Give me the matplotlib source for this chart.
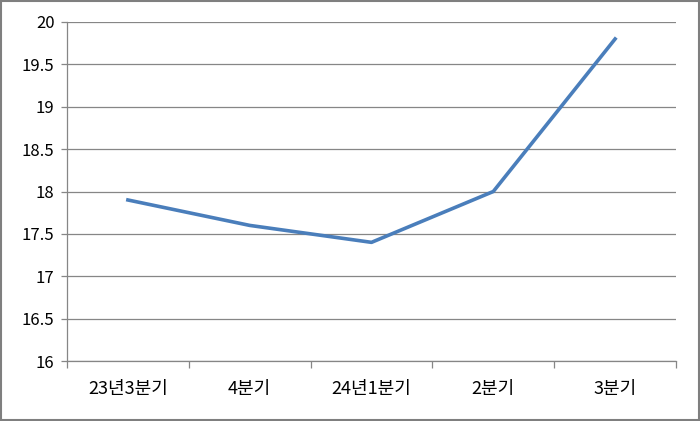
import matplotlib
matplotlib.use("Agg")
import matplotlib.pyplot as plt
import numpy as np

plt.rcParams['font.family'] = ['Noto Sans CJK KR', 'DejaVu Sans']

categories = ["23년3분기", "4분기", "24년1분기", "2분기", "3분기"]
values = [17.9, 17.6, 17.4, 18.0, 19.8]
y_ticks = [16, 16.5, 17, 17.5, 18, 18.5, 19, 19.5, 20]

GRID = "#868686"
LINE = "#4A7EBB"

fig = plt.figure(figsize=(7, 4.21), dpi=100)
ax = fig.add_axes([67 / 700, 60 / 421, 609 / 700, 339 / 421])

x = np.arange(len(categories))
ax.plot(x, values, color=LINE, linewidth=2.6, solid_joinstyle="round", zorder=3)

ax.set_xlim(-0.5, len(categories) - 0.5)
ax.set_ylim(16, 20)
ax.set_yticks(y_ticks)
ax.set_yticklabels([f"{v:g}" for v in y_ticks])
ax.grid(axis="y", color=GRID, linewidth=0.9)

# category boundaries as major ticks, labels at centers via minor ticks
ax.set_xticks(np.arange(-0.5, len(categories), 1.0))
ax.set_xticklabels([])
ax.set_xticks(x, minor=True)
ax.set_xticklabels(categories, minor=True)
ax.tick_params(axis="x", which="major", length=5, color=GRID, width=0.9)
ax.tick_params(axis="x", which="minor", length=0, pad=14, labelsize=13)
ax.tick_params(axis="y", length=4, color=GRID, width=0.9, labelsize=12, pad=5)

for s in ["top", "right"]:
    ax.spines[s].set_visible(False)
for s in ["left", "bottom"]:
    ax.spines[s].set_color(GRID)
    ax.spines[s].set_linewidth(0.9)

# outer chart border
fig.patches.append(plt.Rectangle((0.002, 0.003), 0.996, 0.994, transform=fig.transFigure,
                                 fill=False, edgecolor="#7f7f7f", linewidth=1.5))

fig.savefig("out.png", dpi=100)
